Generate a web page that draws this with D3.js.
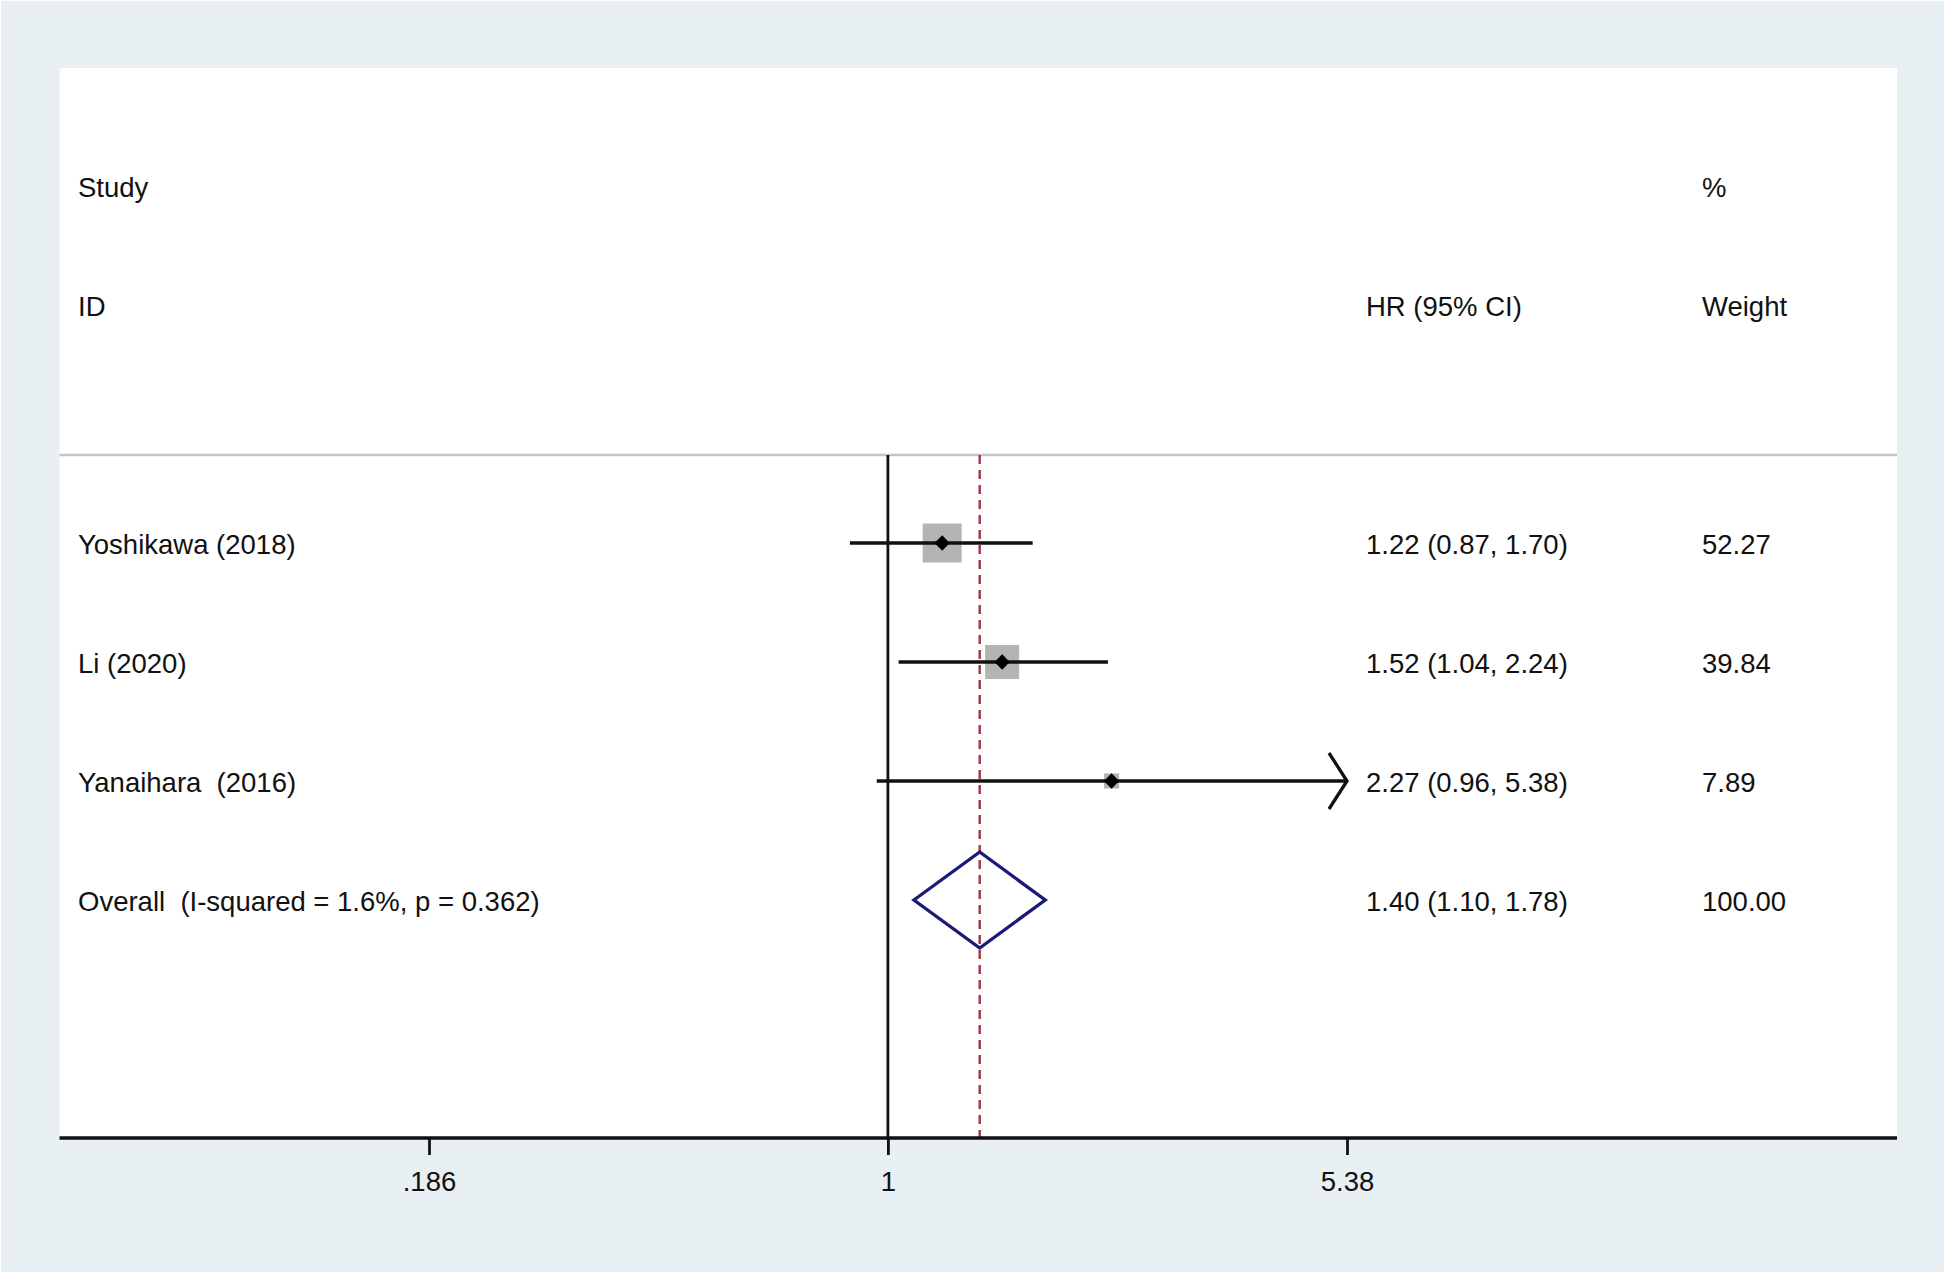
<!DOCTYPE html>
<html>
<head>
<meta charset="utf-8">
<script src="https://cdn.jsdelivr.net/npm/d3@7"></script>
<style>
    body { margin: 0; background: #fff; }
    text { font-family: "Liberation Sans", Arial, sans-serif; fill: #111; white-space: pre; }
</style>
</head>
<body>
<svg id="chart"></svg>
<script>
const WIDTH = 1944
const HEIGHT = 1275

// study rows
const studies = ['Yoshikawa (2018)', 'Li (2020)', 'Yanaihara  (2016)']
const hr = [1.22, 1.52, 2.27]
const lower = [0.87, 1.04, 0.96]
const upper = [1.70, 2.24, 5.38]
const weights = [52.27, 39.84, 7.89]

// pooled estimate
const overallLabel = 'Overall  (I-squared = 1.6%, p = 0.362)'
const overall = [1.40, 1.10, 1.78]
const overallWeight = 100

const tickValues = [0.186, 1, 5.38]
const tickLabels = ['.186', '1', '5.38']

const svg = d3.select('#chart').attr('width', WIDTH).attr('height', HEIGHT)

const panel = { left: 59.5, right: 1897, top: 68 }

const x = d3.scaleLog().domain([0.186, 5.38]).range([429, 1347])
// row index -> y, header rows are negative
const y = d3.scaleLinear().domain([0, 5]).range([543, 1138])
const axisY = y(5)
const headerLineY = y(-0.74)

const colHR = 1366
const colW = 1702
const colStudy = 78

svg.append('rect')
    .attr('x', 1).attr('y', 1)
    .attr('width', WIDTH - 1).attr('height', 1271)
    .attr('fill', '#e8f0f3')

svg.append('rect')
    .attr('x', panel.left).attr('y', panel.top)
    .attr('width', panel.right - panel.left).attr('height', axisY - panel.top)
    .attr('fill', '#fff')

const fs = 27.5

const addText = (tx, ty, s, anchor = 'start') => {
    svg.append('text')
        .attr('x', tx).attr('y', ty)
        .attr('dy', '0.4em')
        .attr('font-size', fs)
        .attr('text-anchor', anchor)
        .text(s)
}

// headers
addText(colStudy, y(-3), 'Study')
addText(colStudy, y(-2), 'ID')
addText(colHR, y(-2), 'HR (95% CI)')
addText(colW, y(-3), '%')
addText(colW, y(-2), 'Weight')

svg.append('line')
    .attr('x1', panel.left).attr('x2', panel.right)
    .attr('y1', headerLineY).attr('y2', headerLineY)
    .attr('stroke', '#c4c4c4').attr('stroke-width', 2.5)

// null line
svg.append('line')
    .attr('x1', x(1)).attr('x2', x(1))
    .attr('y1', headerLineY).attr('y2', axisY)
    .attr('stroke', '#111').attr('stroke-width', 2.8)

// overall effect line
svg.append('line')
    .attr('x1', x(overall[0])).attr('x2', x(overall[0]))
    .attr('y1', headerLineY).attr('y2', axisY)
    .attr('stroke', '#a3343f').attr('stroke-width', 2.4)
    .attr('stroke-dasharray', '9,6')

const fmt = d3.format('.2f')
const xMax = x.domain()[1]
const boxK = 39 / Math.sqrt(52.27)

studies.forEach((name, i) => {
    const cy = y(i)
    const side = boxK * Math.sqrt(weights[i])
    svg.append('rect')
        .attr('x', x(hr[i]) - side / 2).attr('y', cy - side / 2)
        .attr('width', side).attr('height', side)
        .attr('fill', '#b4b4b4')

    const hi = Math.min(upper[i], xMax)
    svg.append('line')
        .attr('x1', x(lower[i])).attr('x2', x(hi))
        .attr('y1', cy).attr('y2', cy)
        .attr('stroke', '#111').attr('stroke-width', 3.3)

    if (upper[i] >= xMax) {
        const ax = x(xMax)
        svg.append('path')
            .attr('d', `M${ax - 18},${cy - 28}L${ax},${cy}L${ax - 18},${cy + 28}`)
            .attr('fill', 'none').attr('stroke', '#111').attr('stroke-width', 3.3)
    }

    svg.append('path')
        .attr('d', d3.symbol().type(d3.symbolDiamond2).size(150)())
        .attr('transform', `translate(${x(hr[i])},${cy})`)
        .attr('fill', '#000')

    addText(colStudy, cy, name)
    addText(colHR, cy, `${fmt(hr[i])} (${fmt(lower[i])}, ${fmt(upper[i])})`)
    addText(colW, cy, fmt(weights[i]))
})

// overall diamond
const oy = y(3)
svg.append('path')
    .attr('d', `M${x(overall[1])},${oy}L${x(overall[0])},${oy - 48}L${x(overall[2])},${oy}L${x(overall[0])},${oy + 48}Z`)
    .attr('fill', 'none').attr('stroke', '#1a1a78').attr('stroke-width', 3.3)

addText(colStudy, oy, overallLabel)
addText(colHR, oy, `${fmt(overall[0])} (${fmt(overall[1])}, ${fmt(overall[2])})`)
addText(colW, oy, fmt(overallWeight))

// axis
svg.append('line')
    .attr('x1', panel.left).attr('x2', panel.right)
    .attr('y1', axisY).attr('y2', axisY)
    .attr('stroke', '#111').attr('stroke-width', 3.3)

const axis = d3.axisBottom(x)
    .tickValues(tickValues)
    .tickFormat((d, i) => tickLabels[i])
    .tickSize(17)
    .tickPadding(16)

const gAxis = svg.append('g')
    .attr('transform', `translate(0,${axisY})`)
    .call(axis)
gAxis.select('.domain').remove()
gAxis.selectAll('line').attr('stroke', '#111').attr('stroke-width', 2.8)
gAxis.selectAll('text')
    .attr('font-size', fs)
    .attr('font-family', '"Liberation Sans", Arial, sans-serif')
    .attr('fill', '#111')
</script>
</body>
</html>
